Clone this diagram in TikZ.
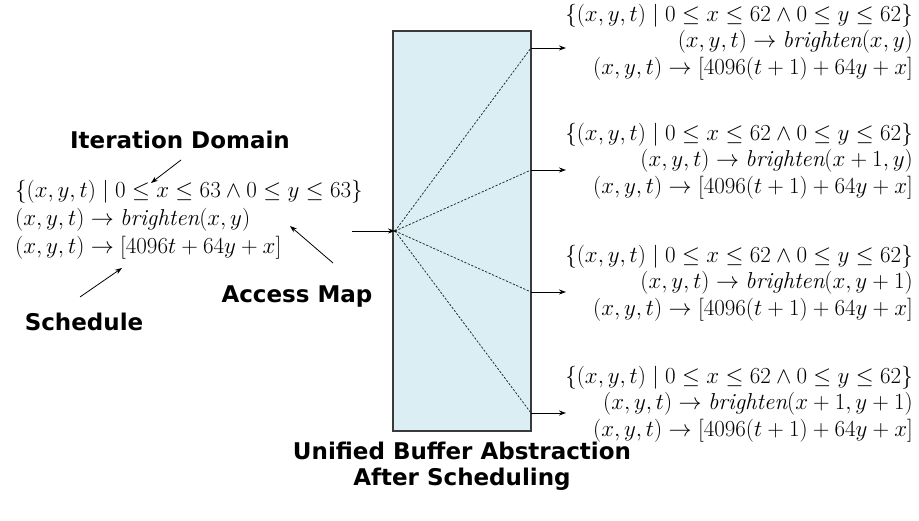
\RequirePackage{fix-cm}
\documentclass[tikz,border=0pt]{standalone}
\usepackage{fontspec}
\usetikzlibrary{arrows.meta}
\newfontfamily\lblfont{DejaVu Sans}
\definecolor{buffill}{HTML}{DAEEF3}
\definecolor{bufdraw}{HTML}{3A3A3A}
\tikzset{
  mathtext/.style={font=\fontsize{23}{26.5}\selectfont, inner sep=0pt},
  lbl/.style={font=\lblfont\bfseries\fontsize{23}{26}\selectfont, inner sep=0pt, align=center},
  arr/.style={-{Stealth[length=7pt,width=5pt]}, line width=0.9pt},
  fan/.style={dash pattern=on 2.2pt off 1.6pt, line width=0.75pt, black!85},
}
\begin{document}
\begin{tikzpicture}[x=1pt,y=-1pt]
\useasboundingbox (0,0) rectangle (919,521);
% buffer box
\node[draw=bufdraw, fill=buffill, line width=1.4pt, minimum width=138pt, minimum height=400pt, inner sep=0pt] (buf) at (462,231) {};
\coordinate (hub) at (395,231);
\coordinate (e1) at (531,48);
\coordinate (e2) at (531,170);
\coordinate (e3) at (531,292);
\coordinate (e4) at (531,413);
\foreach \i in {1,2,3,4} { \draw[fan] (hub) -- (e\i); }
\fill (hub) circle (1.2pt);
% outgoing arrows
\coordinate (o1) at (566,48);
\coordinate (o2) at (566,170);
\coordinate (o3) at (566,292);
\coordinate (o4) at (566,413);
\foreach \i in {1,2,3,4} { \draw[arr] (e\i) -- (o\i); }
% input
\coordinate (in) at (352,231);
\draw[arr] (in) -- (hub);
% left block
\node[mathtext, anchor=west, align=left, font=\fontsize{23}{28}\selectfont] (left) at (15,220) {%
$\{(x,y,t) \mid 0 \le x \le 63 \land 0 \le y \le 63\}$\\
$(x,y,t) \rightarrow \mathit{brighten}(x,y)$\\
$(x,y,t) \rightarrow [4096t + 64y + x]$};
% right blocks
\node[mathtext, anchor=east, align=right] (r1) at (913,42) {%
$\{(x,y,t) \mid 0 \le x \le 62 \land 0 \le y \le 62\}$\\
$(x,y,t) \rightarrow \mathit{brighten}(x,y)$\\
$(x,y,t) \rightarrow [4096(t+1) + 64y + x]$};
\node[mathtext, anchor=east, align=right] (r2) at (913,161) {%
$\{(x,y,t) \mid 0 \le x \le 62 \land 0 \le y \le 62\}$\\
$(x,y,t) \rightarrow \mathit{brighten}(x+1,y)$\\
$(x,y,t) \rightarrow [4096(t+1) + 64y + x]$};
\node[mathtext, anchor=east, align=right] (r3) at (913,283) {%
$\{(x,y,t) \mid 0 \le x \le 62 \land 0 \le y \le 62\}$\\
$(x,y,t) \rightarrow \mathit{brighten}(x,y+1)$\\
$(x,y,t) \rightarrow [4096(t+1) + 64y + x]$};
\node[mathtext, anchor=east, align=right] (r4) at (913,404) {%
$\{(x,y,t) \mid 0 \le x \le 62 \land 0 \le y \le 62\}$\\
$(x,y,t) \rightarrow \mathit{brighten}(x+1,y+1)$\\
$(x,y,t) \rightarrow [4096(t+1) + 64y + x]$};
% labels
\node[lbl] (itd) at (180,140) {Iteration Domain};
\node[lbl] (acc) at (297,297) {Access Map};
\node[lbl] (sch) at (84,322) {Schedule};
\node[lbl] (ub) at (462,466) {Unified Buffer Abstraction\\After Scheduling};
% label arrows
\coordinate (itdA) at (181,160);
\coordinate (itdB) at (151,183);
\draw[arr, line width=0.8pt] (itdA) -- (itdB);
\coordinate (accA) at (333,263);
\coordinate (accB) at (290,226);
\draw[arr, line width=0.8pt] (accA) -- (accB);
\coordinate (schA) at (80,297);
\coordinate (schB) at (122,268);
\draw[arr, line width=0.8pt] (schA) -- (schB);
\end{tikzpicture}
\end{document}
